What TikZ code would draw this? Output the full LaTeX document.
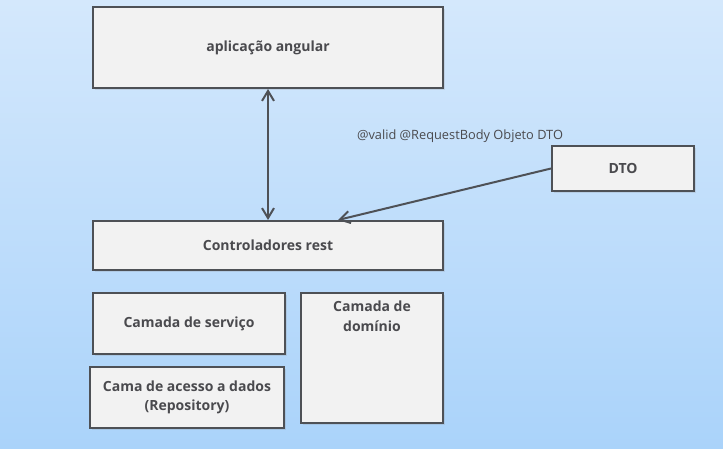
\documentclass[tikz,border=0pt]{standalone}
\usepackage{fontspec}
\setmainfont{Open Sans}
\usetikzlibrary{calc}
\usetikzlibrary{arrows.meta}
\usetikzlibrary{shadows}
\definecolor{bgtop}{RGB}{212,232,252}
\definecolor{bgbot}{RGB}{170,211,250}
\definecolor{boxfill}{RGB}{242,242,242}
\definecolor{boxline}{RGB}{78,81,86}
\definecolor{txtgray}{RGB}{74,74,78}
\newcommand{\lyrw}{350}
\newcommand{\lyrwh}{192}
\newcommand{\lyrws}{142}
\newcommand{\lyrfont}{\fontsize{14}{19.5}\selectfont\bfseries}
\tikzset{
  layerbox/.style={draw=boxline, fill=boxfill, line width=2pt,
    text=txtgray, font=\lyrfont, align=center, inner sep=0pt,
    drop shadow={opacity=0.18, shadow xshift=2pt, shadow yshift=-2pt}},
  conn/.style={draw=boxline, line width=2pt,
    arrows={-Straight Barb[length=10pt,width=12pt,line width=2pt]}}
}

\begin{document}
\begin{tikzpicture}[x=1pt,y=-1pt]
    \useasboundingbox (0,0) rectangle (723,449);
    \shade[top color=bgtop, bottom color=bgbot] (0,0) rectangle (723,449);

    \node (app) at (268,47.5) [layerbox, minimum width=\lyrw,
      minimum height=81] {aplicação angular};
    \node (ctrl) at (268,245.5) [layerbox, minimum width=\lyrw,
      minimum height=49] {Controladores rest};
    \node (serv) at (189,323.5) [layerbox, minimum width=\lyrwh,
      minimum height=61] {Camada de serviço};
    \node (repo) at (187,397.5) [layerbox, minimum width=194,
      minimum height=61] {Cama de acesso a dados\\(Repository)};
    \node (dom) at (372,358) [layerbox, minimum width=\lyrws,
      minimum height=130] {};
    \node (domtxt) at ($(dom.north)+(0,24)$) [text=txtgray, font=\lyrfont,
      align=center] {Camada de\\domínio};
    \node (dto) at (623,168.5) [layerbox, minimum width=\lyrws,
      minimum height=45] {DTO};

    \node (lbl) at (460,136) [text=txtgray,
      font=\fontsize{12.8}{15}\selectfont] {@valid @RequestBody Objeto DTO};

    \coordinate (ctrlin) at ($(ctrl.north)+(70,0)$);
    \draw[conn, arrows={Straight Barb[length=10pt,width=12pt,line width=2pt]%
      -Straight Barb[length=10pt,width=12pt,line width=2pt]}] (app) -- (ctrl);
    \draw[conn] (dto.west) -- (ctrlin);
\end{tikzpicture}
\end{document}
